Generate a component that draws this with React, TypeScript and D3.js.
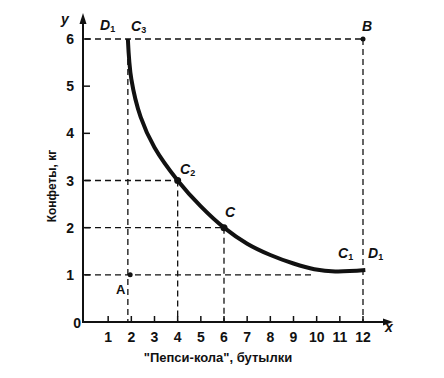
import React from "react";
import * as d3 from "d3";

const xTicks = [1, 2, 3, 4, 5, 6, 7, 8, 9, 10, 11, 12];
const yTicks = [1, 2, 3, 4, 5, 6];
const curveX = [1.85, 2.0, 2.4, 3.0, 4.0, 5.0, 6.0, 7.0, 8.0, 9.0, 9.9, 10.8, 12.1];
const curveY = [6.0, 5.15, 4.35, 3.7, 3.0, 2.45, 2.0, 1.66, 1.42, 1.24, 1.12, 1.07, 1.1];
const pointNames = ["A", "C2", "C", "B"];
const pointX = [1.95, 4, 6, 12];
const pointY = [1, 3, 2, 6];
const pointR = [2.5, 3.5, 3.5, 2.5];

const W = 444;
const H = 378;
const x = d3.scaleLinear().domain([0, 12]).range([85, 363]);
const y = d3.scaleLinear().domain([0, 6]).range([322, 39]);

const font = "'Liberation Sans', Arial, sans-serif";

export default function App() {
  const line = d3
    .line<number>()
    .x((_, i) => x(curveX[i]))
    .y((_, i) => y(curveY[i]))
    .curve(d3.curveCatmullRom.alpha(0.5));
  const curvePath = line(curveX) || "";
  const dash = "6,4";
  const ds = { stroke: "#111", strokeWidth: 1.3, strokeDasharray: dash, fill: "none" } as const;

  const guides: [number, number, number, number][] = [
    [0, 6, 12, 6],
    [12, 6, 12, 0],
    [curveX[0], 6, curveX[0], 0],
    [0, 3, 4, 3],
    [4, 3, 4, 0],
    [0, 2, 6, 2],
    [6, 2, 6, 0],
    [0, 1, 9.8, 1],
  ];

  return (
    <svg width={W} height={H} style={{ position: "absolute", left: 0, top: 0, background: "#fff" }}>
      <rect width={W} height={H} fill="#fff" />
      {guides.map((g, i) => (
        <line key={i} x1={x(g[0])} y1={y(g[1])} x2={x(g[2])} y2={y(g[3])} style={ds} />
      ))}
      <line x1={x(0) - 2} y1={y(0)} x2={390} y2={y(0)} stroke="#111" strokeWidth={2} />
      <path d={`M393,${y(0)} L383,${y(0) - 3.5} L383,${y(0) + 3.5} Z`} fill="#111" />
      <line x1={x(0) - 2} y1={y(0) + 1} x2={x(0) - 2} y2={20} stroke="#111" strokeWidth={2} />
      <path d={`M${x(0) - 2},13 L${x(0) - 5.5},24 L${x(0) + 1.5},24 Z`} fill="#111" />
      {xTicks.map((t) => (
        <g key={"xt" + t}>
          <line x1={x(t)} x2={x(t)} y1={y(0)} y2={y(0) - 6} stroke="#111" strokeWidth={1.5} />
          <text x={x(t)} y={y(0) + 20} textAnchor="middle" fontFamily={font} fontWeight="bold" fontSize={14} fill="#111">
            {t}
          </text>
        </g>
      ))}
      {yTicks.map((t) => (
        <g key={"yt" + t}>
          <line x1={x(0) - 2} x2={x(0) + 5} y1={y(t)} y2={y(t)} stroke="#111" strokeWidth={1.5} />
          <text x={74} y={y(t) + 5} textAnchor="end" fontFamily={font} fontWeight="bold" fontSize={14} fill="#111">
            {t}
          </text>
        </g>
      ))}
      <text x={81} y={y(0) + 6} textAnchor="end" fontFamily={font} fontWeight="bold" fontSize={14} fill="#111">
        0
      </text>
      <path d={curvePath} fill="none" stroke="#111" strokeWidth={4} strokeLinecap="butt" />
      {pointNames.map((n, i) => (
        <circle key={n} cx={x(pointX[i])} cy={y(pointY[i])} r={pointR[i]} fill="#111" />
      ))}
      <g fontFamily={font} fontWeight="bold" fontStyle="italic" fontSize={14} fill="#111">
        <text x={61} y={24}>y</text>
        <text x={385} y={332}>x</text>
        <text x={100} y={30}>D<tspan fontSize={9} fontStyle="normal" dy={2}>1</tspan></text>
        <text x={131} y={31}>C<tspan fontSize={9} fontStyle="normal" dy={2}>3</tspan></text>
        <text x={362} y={31}>B</text>
        <text x={180} y={174}>C<tspan fontSize={9} fontStyle="normal" dy={2}>2</tspan></text>
        <text x={225} y={217}>C</text>
        <text x={338} y={258}>C<tspan fontSize={9} fontStyle="normal" dy={2}>1</tspan></text>
        <text x={368} y={258}>D<tspan fontSize={9} fontStyle="normal" dy={2}>1</tspan></text>
      </g>
      <text x={116} y={294} fontFamily={font} fontWeight="bold" fontSize={13} fill="#111">A</text>
      <text
        transform={`translate(56,186) rotate(-90)`}
        textAnchor="middle"
        fontFamily={font}
        fontWeight="bold"
        fontSize={12}
        fill="#111"
      >
        Конфеты, кг
      </text>
      <text x={218} y={362} textAnchor="middle" fontFamily={font} fontWeight="bold" fontSize={13} fill="#111">
        "Пепси-кола", бутылки
      </text>
    </svg>
  );
}
